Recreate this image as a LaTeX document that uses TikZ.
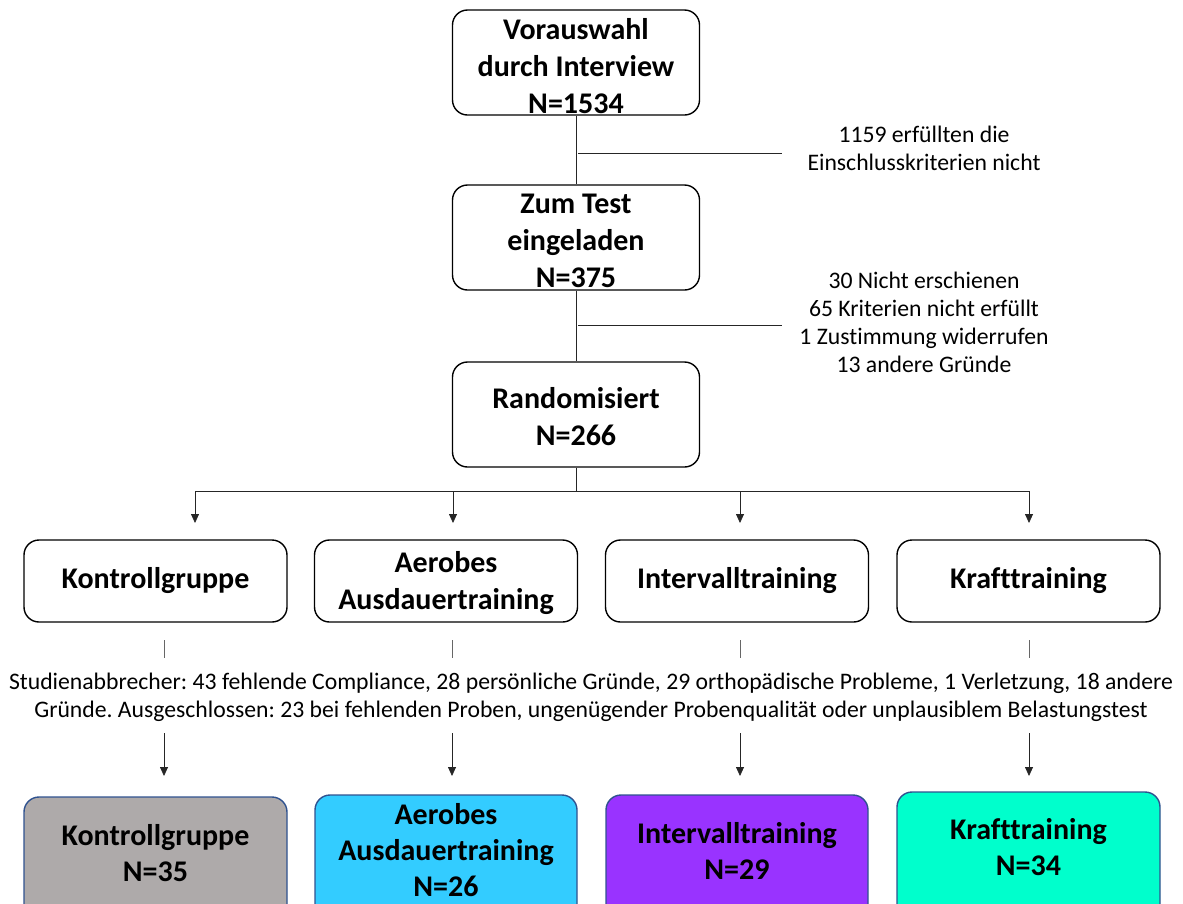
\documentclass[tikz,border=0pt]{standalone}
\usepackage{fontspec}
\setmainfont{Carlito}[Ligatures=NoCommon]
\usetikzlibrary{arrows.meta}
\definecolor{kgray}{HTML}{AEAAAA}
\definecolor{kcyan}{HTML}{33CCFF}
\definecolor{kpurple}{HTML}{9933FF}
\definecolor{kteal}{HTML}{00FFCC}
\definecolor{kborder}{HTML}{2F528F}
\frenchspacing
\tikzset{
  mainbox/.style={draw=black, line width=1.4pt, rounded corners=15pt, align=center,
    minimum width=247pt, minimum height=105pt, inner sep=0pt},
  groupbox/.style={draw=black, line width=1.4pt, rounded corners=15pt, align=center,
    minimum width=263pt, minimum height=82pt, inner sep=0pt},
  resbox/.style={draw=kborder, line width=1.4pt, rounded corners=15pt,
    minimum width=263pt, inner sep=0pt},
  boldtxt/.style={align=center, inner sep=0pt, font=\bfseries\fontsize{30}{37}\selectfont},
  restxt/.style={align=center, inner sep=0pt, font=\bfseries\fontsize{30}{36}\selectfont},
  note/.style={align=center, inner sep=0pt, font=\fontsize{23.7}{28}\selectfont},
  conn/.style={draw=black!85, line width=0.8pt},
  arr/.style={conn, -{Triangle[width=8pt,length=9pt]}}
}
\begin{document}
\begin{tikzpicture}[x=1pt,y=-1pt]
\useasboundingbox (0,0) rectangle (1183,903);
\clip (0,0) rectangle (1183,903);

% main flow
\node[mainbox] (b1) at (576,62.5) {};
\node[mainbox] (b2) at (576,237.5) {};
\node[mainbox] (b3) at (576,414.5) {};
\node[boldtxt] (b1t) at (576,66) {Vorauswahl\\durch Interview\\N=1534};
\node[boldtxt] (b2t) at (576,241) {Zum Test\\eingeladen\\N=375};
\node[boldtxt] (b3t) at (576,417) {Randomisiert\\N=266};

\draw[conn] (b1.south) -- (b2.north);
\draw[conn] (b2.south) -- (b3.north);

\coordinate (s1) at (578,153);
\coordinate (s1e) at (782,153);
\coordinate (s2) at (578,325);
\coordinate (s2e) at (782,325);
\draw[conn] (s1) -- (s1e);
\draw[conn] (s2) -- (s2e);

\node[note] (n1) at (924,148) {1159 erfüllten die\\Einschlusskriterien nicht};
\node[note] (n2) at (924,322) {30 Nicht erschienen\\65 Kriterien nicht erfüllt\\1 Zustimmung widerrufen\\13 andere Gründe};

% branching
\coordinate (br) at (576,491);
\coordinate (bl) at (195,491);
\coordinate (brr) at (1029,491);
\draw[conn] (b3.south) -- (br);
\draw[conn] (bl) -- (brr);

\node[groupbox] (g1) at (155.5,581) {};
\node[groupbox] (g2) at (446,581) {};
\node[groupbox] (g3) at (737,581) {};
\node[groupbox] (g4) at (1028.5,581) {};
\node[boldtxt] (g1t) at (155.5,581) {Kontrollgruppe};
\node[boldtxt] (g2t) at (446,583) {Aerobes\\Ausdauertraining};
\node[boldtxt] (g3t) at (737,581) {Intervalltraining};
\node[boldtxt] (g4t) at (1028.5,581) {Krafttraining};

\coordinate (a1s) at (195,491); \coordinate (a1e) at (195,523);
\coordinate (a2s) at (453,491); \coordinate (a2e) at (453,523);
\coordinate (a3s) at (740,491); \coordinate (a3e) at (740,523);
\coordinate (a4s) at (1029,491); \coordinate (a4e) at (1029,523);
\draw[arr] (a1s) -- (a1e);
\draw[arr] (a2s) -- (a2e);
\draw[arr] (a3s) -- (a3e);
\draw[arr] (a4s) -- (a4e);

% short ticks
\foreach \x/\n in {164/1,452/2,740/3,1029/4}{
  \coordinate (t\n s) at (\x,640);
  \coordinate (t\n e) at (\x,658);
  \draw[conn, line width=0.6pt, draw=black!60] (t\n s) -- (t\n e);
}

\node[note] (drop) at (591,697) {Studienabbrecher: 43 fehlende Compliance, 28 persönliche Gründe, 29 orthopädische Probleme, 1 Verletzung, 18 andere\\Gründe. Ausgeschlossen: 23 bei fehlenden Proben, ungenügender Probenqualität oder unplausiblem Belastungstest};

\foreach \x/\n in {164/1,452/2,740/3,1029/4}{
  \coordinate (d\n s) at (\x,733);
  \coordinate (d\n e) at (\x,776);
  \draw[arr] (d\n s) -- (d\n e);
}

% result boxes
\draw[resbox, fill=kgray] (24,797) rectangle (287,920);
\draw[resbox, fill=kcyan] (315,795) rectangle (577,920);
\draw[resbox, fill=kpurple] (606,795) rectangle (868,920);
\draw[resbox, fill=kteal] (897,792) rectangle (1160,920);

\node[restxt] (r1) at (155.5,853) {Kontrollgruppe\\N=35};
\node[restxt] (r2) at (446,850) {Aerobes\\Ausdauertraining\\N=26};
\node[restxt] (r3) at (737,851) {Intervalltraining\\N=29};
\node[restxt] (r4) at (1028.5,847) {Krafttraining\\N=34};
\end{tikzpicture}
\end{document}
